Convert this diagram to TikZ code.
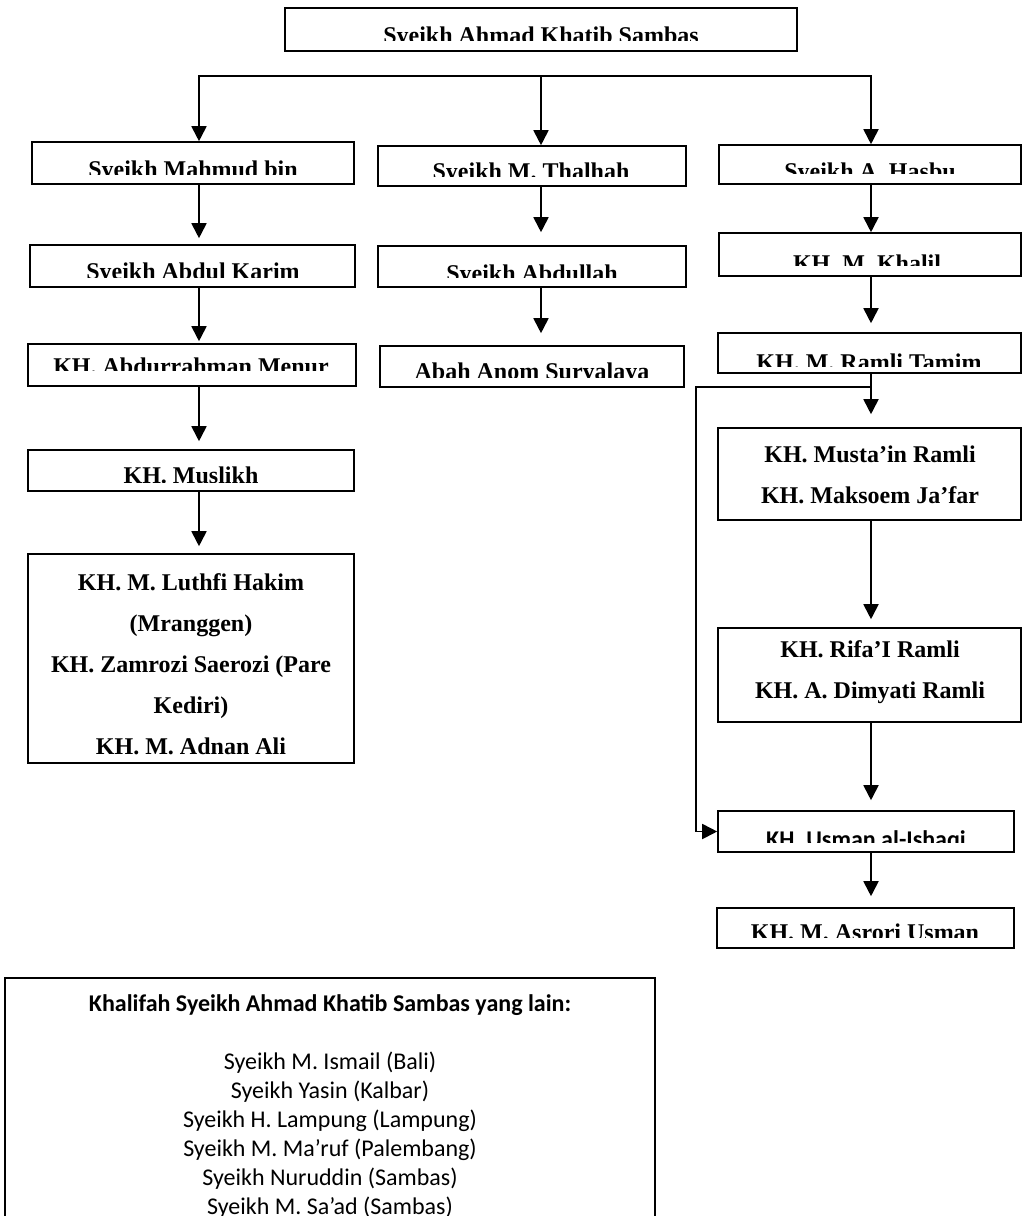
\documentclass[tikz,border=0pt]{standalone}
\usepackage{fontspec}
\setmainfont{Liberation Serif}
\newfontfamily\calibri{Carlito}
\usetikzlibrary{arrows.meta,fit}

\begin{document}
\begin{tikzpicture}
  [
    x = 1pt, y = -1pt,
    khbox/.style = {draw, line width = 1.6pt, inner sep = 0pt},
    khname/.style = {font = \fontsize{24}{24}\selectfont\bfseries, anchor = base, inner sep = 0pt},
    ckname/.style = {font = \calibri\fontsize{24}{24}\selectfont\bfseries, anchor = base, inner sep = 0pt},
    cklist/.style = {font = \calibri\fontsize{24}{24}\selectfont, anchor = base, inner sep = 0pt},
    bar/.style = {line width = 1.8pt, line cap = rect},
    link/.style = {line width = 1.8pt, -{Triangle[width = 15pt, length = 15pt]}},
  ]

  \useasboundingbox (0,0) rectangle (1026,1216);
  \clip (0,0) rectangle (1026,1216);

  \node[khbox, fit = {(285,8) (797,51)}] (sambas) {};
  \node[khbox, fit = {(32,142) (354,184)}] (mahmud) {};
  \node[khbox, fit = {(378,146) (686,186)}] (thalhah) {};
  \node[khbox, fit = {(719,145) (1021,184)}] (hasbu) {};
  \node[khbox, fit = {(30,245) (355,287)}] (karim) {};
  \node[khbox, fit = {(378,246) (686,287)}] (abdullah) {};
  \node[khbox, fit = {(719,233) (1021,276)}] (khalil) {};
  \node[khbox, fit = {(28,344) (356,386)}] (menur) {};
  \node[khbox, fit = {(380,346) (684,387)}] (anom) {};
  \node[khbox, fit = {(718,333) (1021,373)}] (tamim) {};
  \node[khbox, fit = {(28,450) (354,491)}] (muslikh) {};
  \node[khbox, fit = {(28,554) (354,763)}] (luthfi) {};
  \node[khbox, fit = {(718,428) (1021,520)}] (mustain) {};
  \node[khbox, fit = {(718,628) (1021,722)}] (rifai) {};
  \node[khbox, fit = {(718,811) (1014,852)}] (usman) {};
  \node[khbox, fit = {(717,908) (1014,948)}] (asrori) {};
  \node[khbox, fit = {(5,978) (655,1260)}] (khalifah) {};

  \foreach \n/\cx/\base/\cut/\st/\who in {
      sambas/541/43/40/khname/Syeikh Ahmad Khatib Sambas,
      mahmud/193/177/174/khname/Syeikh Mahmud bin,
      thalhah/531/179/176/khname/Syeikh M. Thalhah,
      hasbu/870/179/173/khname/Syeikh A. Hasbu,
      karim/193/279/277/khname/Syeikh Abdul Karim,
      abdullah/532/281/277/khname/Syeikh Abdullah,
      khalil/867/271/265/khname/KH. M. Khalil,
      menur/191/374/370/khname/KH. Abdurrahman Menur,
      anom/532/379/377/khname/Abah Anom Suryalaya,
      tamim/869/370/366/khname/KH. M. Ramli Tamim,
      muslikh/191/483/482/khname/KH. Muslikh,
      usman/866/847/842/ckname/KH. Usman al-Ishaqi,
      asrori/865/940/937/khname/KH. M. Asrori Usman}{
      \begin{scope}
        \clip (0,0) rectangle (1026,\cut);
        \node[\st] (\n-t) at (\cx,\base) {\who};
      \end{scope}
    }

  \foreach \who [count = \i from 0] in {KH. M. Luthfi Hakim, {(Mranggen)}, KH. Zamrozi Saerozi (Pare, Kediri), KH. M. Adnan Ali}
    \node[khname] (luthfi-\i) at (191, {590 + 41*\i}) {\who};

  \foreach \who [count = \i from 0] in {KH. Musta’in Ramli, KH. Maksoem Ja’far}
    \node[khname] (mustain-\i) at (870, {462 + 41*\i}) {\who};

  \foreach \who [count = \i from 0] in {KH. Rifa’I Ramli, KH. A. Dimyati Ramli}
    \node[khname] (rifai-\i) at (870, {657 + 41*\i}) {\who};

  \node[ckname] (khalifah-t) at (330,1011) {Khalifah Syeikh Ahmad Khatib Sambas yang lain:};
  \foreach \who [count = \i from 0] in {Syeikh M. Ismail (Bali), Syeikh Yasin (Kalbar), Syeikh H. Lampung (Lampung), Syeikh M. Ma’ruf (Palembang), Syeikh Nuruddin (Sambas), Syeikh M. Sa’ad (Sambas)}
    \node[cklist] (khalifah-\i) at (330, {1069 + 29.1*\i}) {\who};

  \coordinate (colA) at (199,0);
  \coordinate (colB) at (541,0);
  \coordinate (colC) at (871,0);
  \coordinate (rail) at (0,76);
  \coordinate (split) at (871,387);
  \coordinate (loop) at (696,0);

  \draw[bar] (rail -| colA) -- (rail -| colC);
  \draw[link] (rail -| colA) -- (mahmud.north -| colA);
  \draw[link] (rail -| colB) -- (thalhah.north -| colB);
  \draw[link] (rail -| colC) -- (hasbu.north -| colC);

  \foreach \from/\to/\col/\gap in {
      mahmud/karim/colA/6, karim/menur/colA/2, menur/muslikh/colA/8, muslikh/luthfi/colA/7,
      thalhah/abdullah/colB/13, abdullah/anom/colB/12,
      hasbu/khalil/colC/0, khalil/tamim/colC/9, tamim/mustain/colC/13,
      mustain/rifai/colC/8, rifai/usman/colC/10, usman/asrori/colC/11}
    \draw[link, shorten >= \gap pt] (\from.south -| \col) -- (\to.north -| \col);

  \draw[link] (split) -- (split -| loop) |- (usman.west);

\end{tikzpicture}
\end{document}
